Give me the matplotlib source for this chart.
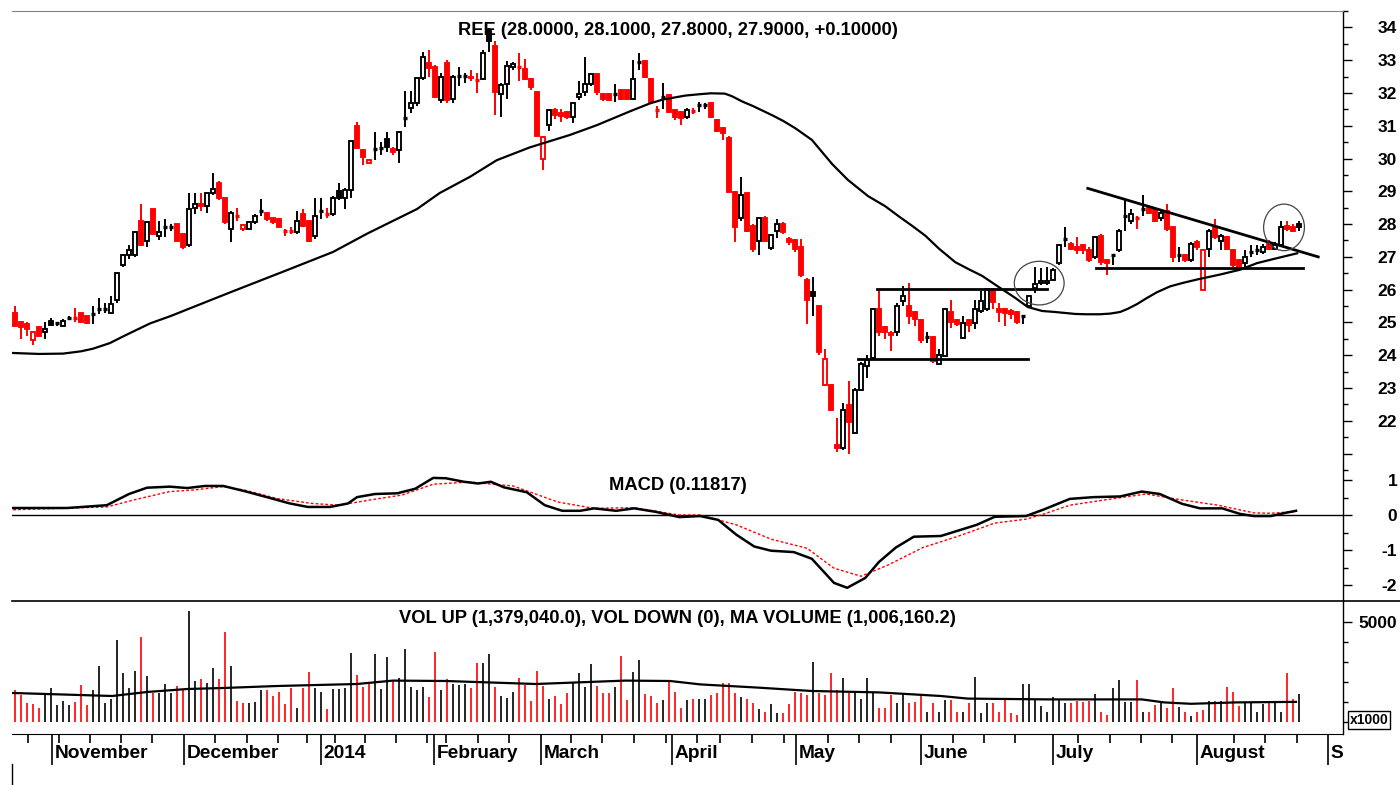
import matplotlib.pyplot as plt
import numpy as np
from matplotlib.lines import Line2D
from matplotlib.patches import Ellipse, Rectangle

plt.rcParams["font.family"] = ["Liberation Sans", "DejaVu Sans"]
plt.rcParams["font.weight"] = "bold"
plt.rcParams["axes.unicode_minus"] = False

# daily candles, mid Oct 2013 .. Aug 2014 (one entry per trading day)
opens = [
    25.30, 25.00, 24.95, 24.45, 24.85, 24.70, 25.05,
    24.95, 24.90, 25.15, 25.12, 25.30, 25.20, 25.25, 25.40, 25.40, 25.30, 25.70, 26.75, 27.05, 27.05, 28.10,
    27.47, 28.47, 27.65, 27.90, 27.90, 28.00, 27.70,
    27.35, 28.50, 28.60, 28.55, 28.95, 29.25, 28.80, 27.85, 28.25, 27.85, 27.85, 28.05, 28.40, 28.35, 28.20,
    28.15, 27.80, 27.80, 27.77, 28.30, 28.10, 27.65,
    28.40, 28.30, 28.30, 29.00, 28.80, 29.05, 30.98, 30.25, 29.85, 30.30, 30.30, 30.60, 30.30, 30.25, 31.25,
    31.55, 31.68, 32.45, 32.90,
    32.78, 31.78, 32.90, 31.83, 32.50, 32.50, 32.50, 32.40, 32.43, 33.90, 33.42, 31.98, 32.28, 32.78, 32.78,
    32.73, 32.43, 32.03,
    30.00, 31.03, 31.48, 31.40, 31.43, 31.28, 31.88, 32.03, 32.28, 32.58, 31.98, 31.98, 31.95, 32.08, 32.08,
    31.83, 32.95, 32.98, 32.43, 31.50, 31.90, 31.93,
    31.48, 31.43, 31.28, 31.45, 31.63, 31.63, 31.68, 31.18, 30.93, 30.64, 28.99, 28.20, 28.94, 27.95, 27.50,
    28.20, 27.27, 27.80, 28.00, 27.55, 27.50,
    27.30, 26.30, 25.92, 25.50, 23.10, 23.10, 21.25, 21.18, 22.48, 21.63, 22.93, 23.67, 23.92, 25.41, 24.86,
    24.62, 24.72, 25.66, 25.51, 25.31, 25.06,
    24.55, 24.57, 23.72, 23.97, 25.31, 25.06, 24.52, 25.06, 24.97, 25.36, 25.41, 26.01, 25.41, 25.40, 25.35,
    25.31, 25.20, 25.51, 26.06, 26.20, 26.20, 26.28,
    26.80, 27.55, 27.40, 27.30, 27.35, 27.20, 27.00, 27.65, 26.90, 27.05, 27.20, 28.25, 28.10, 28.20, 28.45,
    28.50, 28.45, 28.20, 28.40, 27.90, 27.05, 27.05, 26.90, 27.45,
    26.00, 27.25, 27.90, 27.50, 27.60, 27.20, 26.90, 26.80, 27.15, 27.20, 27.15, 27.40, 27.25, 27.35, 27.95,
    27.90, 28.00,
]
highs = [
    25.50, 25.05, 25.00, 24.75, 24.90, 25.00, 25.15,
    25.00, 25.10, 25.20, 25.45, 25.30, 25.20, 25.50, 25.75, 25.60, 25.80, 26.50, 27.10, 27.35, 27.80, 28.60,
    28.10, 28.47, 28.10, 28.15, 28.00, 28.00, 27.70,
    28.95, 28.95, 28.95, 28.95, 29.55, 29.30, 28.80, 28.40, 28.50, 28.00, 28.10, 28.30, 28.77, 28.35, 28.20,
    28.20, 27.85, 27.90, 28.40, 28.45, 28.10, 28.80,
    28.80, 28.50, 28.85, 29.25, 29.10, 30.55, 31.10, 30.25, 30.00, 30.80, 30.50, 30.80, 30.35, 30.85, 32.05,
    32.05, 32.45, 33.25, 33.30,
    32.85, 32.60, 33.00, 32.55, 32.80, 32.60, 32.70, 32.60, 33.30, 33.97, 33.60, 32.30, 32.97, 32.95, 33.22,
    33.03, 32.45, 32.05,
    30.70, 31.50, 31.55, 31.50, 31.45, 31.70, 32.38, 33.10, 32.60, 32.60, 32.00, 32.00, 32.28, 32.10, 32.10,
    33.02, 33.22, 33.00, 32.45, 31.60, 32.30, 31.95,
    31.50, 31.45, 31.55, 31.55, 31.73, 31.70, 31.70, 31.20, 30.95, 30.70, 29.00, 29.44, 28.95, 28.00, 28.20,
    28.25, 27.70, 28.15, 28.05, 27.60, 27.55,
    27.55, 26.35, 26.40, 25.50, 24.20, 23.10, 22.10, 22.53, 23.20, 23.00, 23.80, 24.00, 25.45, 26.00, 24.90,
    24.75, 25.60, 26.10, 26.20, 25.35, 25.10,
    24.72, 24.60, 24.20, 25.45, 25.70, 25.10, 25.20, 25.10, 25.70, 25.95, 26.05, 26.05, 25.60, 25.45, 25.40,
    25.35, 25.22, 25.85, 26.70, 26.65, 26.70, 26.65,
    27.40, 27.90, 27.45, 27.60, 27.40, 27.30, 27.65, 27.70, 26.95, 27.10, 27.85, 28.75, 28.45, 28.25, 28.90,
    28.55, 28.50, 28.40, 28.60, 27.90, 27.30, 27.10, 27.45, 27.50,
    27.25, 27.85, 28.15, 27.70, 27.65, 27.25, 26.95, 27.20, 27.35, 27.35, 27.40, 27.50, 27.45, 28.10, 28.10,
    28.00, 28.10,
]
lows = [
    24.90, 24.50, 24.60, 24.30, 24.60, 24.50, 24.90,
    24.90, 24.85, 25.10, 25.00, 25.00, 24.95, 24.95, 25.25, 25.30, 25.25, 25.60, 26.70, 26.95, 27.00, 27.35,
    27.30, 27.70, 27.50, 27.60, 27.80, 27.50, 27.25,
    27.30, 28.30, 28.40, 28.35, 28.90, 28.75, 28.00, 27.45, 28.10, 27.80, 27.85, 28.00, 28.25, 28.10, 28.00,
    27.90, 27.65, 27.70, 27.70, 27.90, 27.45, 27.55,
    28.15, 28.20, 28.25, 28.75, 28.45, 28.80, 30.30, 29.80, 29.85, 29.95, 30.10, 30.20, 30.10, 29.85, 30.95,
    31.40, 31.60, 32.40, 32.50,
    31.85, 31.70, 31.70, 31.68, 32.20, 32.30, 32.35, 32.00, 32.40, 33.25, 31.33, 31.28, 31.83, 32.70, 32.38,
    32.40, 32.10, 30.69,
    29.64, 30.84, 31.20, 31.10, 31.20, 31.08, 31.80, 31.90, 32.20, 31.95, 31.75, 31.75, 31.73, 31.80, 31.80,
    31.80, 32.70, 32.45, 31.70, 31.25, 31.50, 31.40,
    31.18, 31.03, 31.20, 31.35, 31.43, 31.50, 31.25, 30.80, 30.58, 28.99, 27.45, 28.10, 27.75, 27.15, 27.05,
    27.45, 27.20, 27.57, 27.70, 27.35, 27.15,
    26.40, 24.96, 25.20, 24.00, 23.05, 22.30, 21.05, 21.10, 21.00, 21.60, 22.90, 23.30, 23.90, 24.60, 24.50,
    24.12, 24.60, 25.50, 24.96, 24.90, 24.37,
    24.37, 23.75, 23.70, 23.95, 24.82, 24.90, 24.50, 24.70, 24.80, 25.30, 25.35, 25.40, 25.00, 24.90, 25.10,
    24.95, 24.95, 25.45, 25.90, 26.15, 26.15, 26.25,
    26.75, 27.30, 27.20, 27.10, 27.10, 26.85, 26.95, 26.75, 26.45, 26.75, 27.15, 27.80, 28.00, 27.85, 28.25,
    28.30, 28.05, 28.10, 27.80, 26.85, 26.85, 26.85, 26.85, 27.20,
    26.00, 27.00, 27.55, 27.20, 27.20, 26.70, 26.65, 26.70, 27.00, 27.05, 27.10, 27.20, 27.20, 27.30, 27.80,
    27.75, 27.80,
]
closes = [
    24.90, 24.85, 24.80, 24.70, 24.60, 24.80, 24.92,
    24.97, 25.05, 25.15, 25.13, 25.00, 24.98, 25.25, 25.40, 25.42, 25.55, 26.50, 27.05, 27.20, 27.77, 27.35,
    28.07, 27.70, 27.77, 27.90, 27.92, 27.50, 27.30,
    28.45, 28.60, 28.55, 28.95, 29.07, 28.80, 28.05, 28.35, 28.25, 27.97, 28.05, 28.25, 28.40, 28.15, 28.05,
    27.90, 27.80, 27.78, 28.10, 27.95, 27.50, 28.25,
    28.40, 28.30, 28.80, 28.80, 29.05, 30.55, 30.33, 30.05, 29.97, 30.30, 30.32, 30.35, 30.20, 30.80, 31.25,
    31.68, 32.45, 33.10, 32.77,
    31.88, 32.48, 31.78, 32.48, 32.52, 32.53, 32.45, 32.40, 33.22, 33.60, 32.03, 32.23, 32.83, 32.88, 32.80,
    32.43, 32.18, 30.69,
    30.65, 31.48, 31.33, 31.30, 31.28, 31.68, 31.98, 32.28, 32.58, 32.03, 31.83, 31.80, 31.97, 31.83, 31.82,
    32.43, 32.95, 32.48, 31.73, 31.48, 31.88, 31.43,
    31.28, 31.25, 31.48, 31.45, 31.63, 31.64, 31.28, 30.83, 30.78, 28.99, 27.90, 28.90, 27.80, 27.25, 28.20,
    27.50, 27.67, 28.00, 27.75, 27.45, 27.25,
    26.46, 25.70, 25.82, 24.10, 23.90, 22.33, 21.18, 22.33, 21.95, 22.93, 23.72, 23.85, 25.41, 24.72, 24.70,
    24.68, 25.51, 25.81, 25.21, 25.11, 24.47,
    24.57, 23.82, 24.02, 25.41, 25.01, 24.96, 24.97, 24.92, 25.41, 25.66, 26.01, 25.61, 25.31, 25.28, 25.25,
    25.01, 25.20, 25.81, 26.18, 26.26, 26.27, 26.61,
    27.37, 27.55, 27.25, 27.22, 27.20, 26.90, 27.60, 26.85, 26.80, 27.05, 27.80, 28.25, 28.30, 28.20, 28.45,
    28.35, 28.10, 28.35, 27.85, 27.00, 27.05, 26.90, 27.40, 27.30,
    27.20, 27.80, 27.60, 27.65, 27.25, 26.75, 26.70, 27.00, 27.15, 27.20, 27.30, 27.25, 27.35, 27.90, 27.85,
    27.80, 27.90,
]
# volume in thousands
volumes = [
    1600, 1350, 930, 900, 680, 1350, 1680, 850, 1070, 850, 1000, 1850, 850, 1600, 2800, 970, 1130, 4100,
    2430, 1680, 2570, 4270, 2300, 1470, 1470, 1900, 1470, 1800, 1600, 5570, 2070, 2170, 1970, 2680, 2170,
    4520, 2800, 1070, 970, 970, 1020, 1600, 1600, 1300, 1520, 900, 1680, 680, 1680, 2500, 1680, 1500, 630,
    1670, 1670, 1680, 3430, 2330, 1770, 1900, 3380, 1630, 3270, 2100, 2180, 3630, 1770, 1600, 1770, 1230,
    3520, 1600, 2130, 1900, 1850, 1900, 1680, 2930, 2970, 3400, 1770, 1300, 1200, 1520, 2180, 1850, 1070,
    2570, 1800, 1130, 1300, 900, 1470, 1970, 2430, 1770, 2900, 1800, 1430, 1470, 1770, 3320, 1100, 2520,
    3100, 1400, 1300, 930, 1100, 2100, 1520, 680, 1100, 1130,
    1130, 1130, 1350, 1430, 1970, 1970, 1470, 1230, 1130, 930, 630, 520, 900, 470, 430, 900, 1520, 1430,
    1350, 3020, 1430, 1350, 2430, 1600, 2180, 1430, 1430, 1130, 2220, 1430, 680, 680, 1350, 930, 1430, 930,
    1000, 1350, 520, 930, 520, 1100, 1100, 520, 520, 970, 2230, 430, 930, 930, 520, 1130, 430, 350, 1900,
    1900, 1100, 800, 520, 1230, 1100, 970, 970, 1070, 1020, 1070, 1400, 520, 350, 1680, 2100, 1020, 1020,
    2100, 520, 520, 850, 930, 700, 1680, 770, 520, 300, 520, 600, 1070, 1070, 1070, 1770, 1520, 800, 970,
    970, 520, 900, 970, 970, 520, 2430, 1130, 1379,
]

# moving average on price
ma_x = [-0.5, 4, 8, 11, 13, 15.8, 18.3, 22.5, 26, 29.7, 36.3, 44.7, 53, 58.7, 67, 70.8, 75.8, 80.3, 85.8,
        92.5, 97, 102.5, 105.8, 108, 111.7, 114, 116, 118.3, 119.5, 121.2, 123, 126.2, 128, 130, 132.8,
        134.5, 136.2, 138.8, 142.2, 145, 147.2, 149.5, 151.7, 154, 156.7, 159, 161.2, 163.8, 166.7, 168.8,
        171.2, 173.3, 176.7, 178.5, 180.8, 182.5, 184.2, 185.5, 187, 188.5, 190.3, 192.5, 194.5, 197,
        200.8, 204.2, 207, 210.3, 213.7]
ma_y = [24.07, 24.04, 24.05, 24.12, 24.2, 24.37, 24.6, 24.97, 25.2, 25.47, 25.95, 26.55, 27.15, 27.71,
        28.46, 28.95, 29.44, 29.95, 30.34, 30.72, 31.02, 31.44, 31.68, 31.8, 31.92, 31.96, 31.99, 31.98,
        31.9, 31.74, 31.6, 31.32, 31.15, 30.93, 30.57, 30.2, 29.83, 29.35, 28.85, 28.55, 28.25, 27.95,
        27.65, 27.25, 26.84, 26.62, 26.42, 26.1, 25.75, 25.47, 25.35, 25.32, 25.26, 25.25, 25.25, 25.27,
        25.32, 25.42, 25.56, 25.73, 25.92, 26.10, 26.2, 26.31, 26.46, 26.61, 26.81, 26.96, 27.11]

macd_x = [-0.3, 8.7, 15.3, 19, 22, 25.8, 28.7, 31.7, 34.7, 38.3, 42.2, 45.8, 48.8, 52.5, 55.5, 57, 60,
          63.7, 66.7, 69.7, 71.8, 74.8, 77.2, 79.3, 81.5, 85.3, 88.3, 91.2, 94.2, 96.5, 100.2, 103.2, 106.8,
          110.7, 114.2, 117.2, 120.2, 123.2, 126, 129.8, 132.8, 136.5, 138.7, 141.7, 144, 146.8, 149.8,
          154.3, 157.3, 160.3, 163.3, 168.5, 171.5, 175.8, 179.7, 184.2, 187.8, 190.8, 194.5, 197.5, 201.2,
          204.2, 206.5, 209.3, 211.7, 213.5]
macd_y = [0.20, 0.20, 0.28, 0.60, 0.78, 0.81, 0.77, 0.83, 0.83, 0.68, 0.50, 0.33, 0.23, 0.23, 0.33, 0.51,
          0.60, 0.62, 0.75, 1.06, 1.05, 0.95, 0.90, 0.95, 0.79, 0.65, 0.28, 0.12, 0.12, 0.19, 0.12, 0.19,
          0.09, -0.06, -0.03, -0.14, -0.56, -0.90, -1.02, -1.06, -1.25, -1.94, -2.08, -1.80, -1.34, -0.93,
          -0.62, -0.60, -0.44, -0.28, -0.05, -0.03, 0.16, 0.46, 0.51, 0.53, 0.67, 0.60, 0.32, 0.19, 0.19,
          0.03, -0.03, -0.03, 0.06, 0.12]
signal_x = [-0.3, 15.3, 19.8, 25.8, 29.5, 34.7, 38.3, 43.7, 49.5, 54, 59.2, 64.5, 69.7, 75.7, 83, 90.5,
            96.5, 103.2, 110.7, 114.2, 120.2, 126, 132, 136.5, 141, 145.5, 151.3, 157.3, 163.3, 168.5,
            171.5, 175.8, 181.2, 188.5, 194.5, 200.5, 206.5, 209.3, 213.5]
signal_y = [0.15, 0.23, 0.43, 0.67, 0.71, 0.81, 0.71, 0.47, 0.33, 0.28, 0.43, 0.57, 0.88, 0.94, 0.83,
            0.37, 0.19, 0.21, 0.00, 0.00, -0.28, -0.69, -0.95, -1.52, -1.75, -1.43, -0.93, -0.60, -0.23,
            -0.12, 0.03, 0.28, 0.42, 0.60, 0.43, 0.28, 0.06, 0.05, 0.10]

vol_ma_x = [-0.3, 16.2, 22, 28.7, 34.7, 43.7, 57, 63, 71.8, 86.8, 101.7, 109.2, 114.2, 123.8, 132.8, 144,
            154.3, 158.8, 172.2, 187.8, 191.5, 196, 203.5, 213.5]
vol_ma_y = [1450, 1300, 1500, 1650, 1700, 1800, 1900, 2070, 2050, 1900, 2070, 2050, 1880, 1720, 1550, 1480,
            1300, 1170, 1130, 1130, 980, 910, 980, 1006]

# drawn annotations: (x0, y0, x1, y1)
trend_lines = [
    (143.7, 26.03, 172.0, 26.03),
    (140.5, 23.90, 168.8, 23.90),
    (178.8, 29.09, 217.2, 27.00),
    (180.2, 26.67, 214.7, 26.67),
]
# circles: (x, y, width, height)
circles = [(170.7, 26.20, 8.3, 1.33), (211.5, 27.90, 6.8, 1.42)]

month_pos = [6.2, 28.2, 51.0, 69.8, 87.7, 109.5, 130.2, 151.0, 173.0, 197.0, 218.8]
month_labels = ["November", "December", "2014", "February", "March", "April", "May", "June", "July",
                "August", "S"]
week_pos = [2.1, 7.4, 12.5, 17.7, 22.9, 33.4, 38.6, 43.8, 48.7, 53.3, 58.3, 63.5, 68.7, 71.9, 77.1, 82.4,
            92.7, 97.8, 103.1, 108.5, 113.7, 117.5, 122.9, 128.2, 135.5, 140.6, 146.0, 156.3, 161.5, 166.6,
            177.1, 182.5, 187.6, 192.8, 203.1, 208.4, 213.7]

title_price = "REE (28.0000, 28.1000, 27.8000, 27.9000, +0.10000)"
title_macd = "MACD (0.11817)"
title_vol = "VOL UP (1,379,040.0), VOL DOWN (0), MA VOLUME (1,006,160.2)"

RED = "#ff0000"

o = np.array(opens)
h = np.array(highs)
lo = np.array(lows)
c = np.array(closes)
idx = np.arange(len(c))
prev = np.r_[o[0], c[:-1]]
colors = np.where(c >= prev, "black", RED)

fig = plt.figure(figsize=(14, 7.85), dpi=100)
L, R = 12 / 1400, 1343 / 1400
ax_p = fig.add_axes([L, 315 / 785, R - L, 459 / 785])
ax_m = fig.add_axes([L, 184 / 785, R - L, 131 / 785])
ax_v = fig.add_axes([L, 51 / 785, R - L, 133 / 785])

for ax in (ax_p, ax_m, ax_v):
    ax.set_xlim(-0.5, 221.33)
    ax.set_xticks([])
    ax.spines["left"].set_visible(False)
    ax.spines["top"].set_visible(False)
    ax.spines["bottom"].set_visible(False)
    ax.spines["right"].set_linewidth(1.0)
    ax.yaxis.tick_right()
    ax.tick_params(axis="y", which="major", direction="out", length=6.5, width=1,
                   pad=32.5, labelsize=12.5)
    ax.tick_params(axis="y", which="minor", direction="out", length=3.8, width=1)

ax_p.spines["top"].set_visible(True)
ax_p.spines["top"].set_color("#808080")

# ---- price panel ----
ax_p.set_ylim(20.785, 34.487)
ax_p.vlines(idx, lo, h, colors=colors, lw=1.4, zorder=3)
for i in idx:
    b0, b1 = min(o[i], c[i]), max(o[i], c[i])
    if b1 - b0 < 0.04:
        ax_p.hlines(c[i], i - 0.38, i + 0.38, colors=colors[i], lw=2.4, zorder=4)
    else:
        face = colors[i] if c[i] < o[i] else "white"
        ax_p.add_patch(Rectangle((i - 0.34, b0), 0.68, b1 - b0, facecolor=face,
                                 edgecolor=colors[i], lw=1.35, zorder=4))
ax_p.plot(ma_x, ma_y, color="black", lw=1.6, zorder=5, solid_joinstyle="round")
for x0, y0, x1, y1 in trend_lines:
    ax_p.plot([x0, x1], [y0, y1], color="black", lw=2.0, zorder=6)
for cx, cy, w, hh in circles:
    ax_p.add_patch(Ellipse((cx, cy), w, hh, fill=False, edgecolor="#444444", lw=0.9, zorder=6))

ax_p.set_yticks(range(21, 35))
ax_p.set_yticklabels([""] + [str(v) for v in range(22, 35)])
ax_p.set_yticks(np.arange(20.5, 34.6, 0.5), minor=True)
ax_p.text(0.5, 0.9586, title_price, transform=ax_p.transAxes, ha="center", va="center",
          fontsize=13.2, fontweight="bold", zorder=1)

# ---- MACD panel ----
ax_m.set_ylim(-86 / 35, 45 / 35)
ax_m.axhline(0, color="black", lw=1.0, zorder=1)
ax_m.plot(signal_x, signal_y, color=RED, lw=1.0, ls=(0, (2, 1.5)), zorder=2)
ax_m.plot(macd_x, macd_y, color="black", lw=1.8, zorder=3, solid_joinstyle="round")
ax_m.set_yticks([-2, -1, 0, 1])
ax_m.set_yticks(np.arange(-2, 1.3, 0.5), minor=True)
ax_m.text(0.5, 0.878, title_macd, transform=ax_m.transAxes, ha="center", va="center",
          fontsize=13.2, fontweight="bold")

# ---- volume panel ----
ax_v.set_ylim(-600, 6050)
ax_v.vlines(idx, 0, volumes, colors=colors, lw=1.2, zorder=2)
ax_v.plot(vol_ma_x, vol_ma_y, color="black", lw=1.6, zorder=3)
ax_v.set_yticks([5000])
ax_v.set_yticks([0, 1000, 2000, 3000, 4000], minor=True)
ax_v.text(0.5, 0.865, title_vol, transform=ax_v.transAxes, ha="center", va="center",
          fontsize=13.2, fontweight="bold")

for ax in (ax_p, ax_m, ax_v):
    for lab in ax.yaxis.get_majorticklabels():
        lab.set_horizontalalignment("right")
        lab.set_fontweight("bold")

ax_v.spines["bottom"].set_visible(True)
ax_v.set_xticks(month_pos)
ax_v.set_xticklabels([])
ax_v.set_xticks(week_pos, minor=True)
ax_v.tick_params(axis="x", which="major", direction="out", length=22, width=1.2)
ax_v.tick_params(axis="x", which="minor", direction="out", length=6.5, width=1.2)
for pos, lab in zip(month_pos, month_labels):
    ax_v.annotate(lab, xy=(pos, 0), xycoords=("data", "axes fraction"), xytext=(2, -14),
                  textcoords="offset points", ha="left", va="center", fontsize=13.8,
                  fontweight="bold")

# separator between MACD and volume runs across to the edge
fig.add_artist(Line2D([L, 1.0], [184 / 785, 184 / 785], color="black", lw=1.2))
fig.add_artist(Line2D([L, L], [0, 21 / 785], color="black", lw=1.0))
fig.text(1369 / 1400, (785 - 720) / 785, "x1000", ha="center", va="center", fontsize=10,
         fontweight="bold",
         bbox=dict(boxstyle="square,pad=0.15", facecolor="white", edgecolor="black", lw=1))

fig.savefig("out.png", dpi=100, facecolor="white")
